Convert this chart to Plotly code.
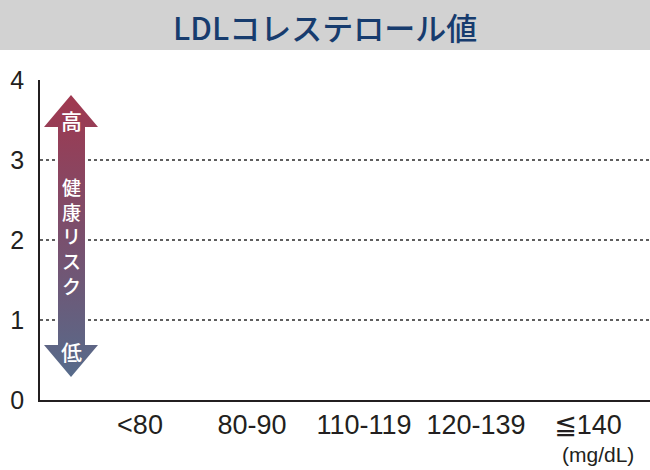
import plotly.graph_objects as go

# LDL cholesterol categories (mg/dL) - chart carries no bars, only the frame
categories = ["<80", "80-90", "110-119", "120-139", "≦140"]
y_ticks = [0, 1, 2, 3, 4]
grid_values = [1, 2, 3]

title_text = "LDLコレステロール値"
unit_text = "(mg/dL)"
risk_high = "高"
risk_low = "低"
risk_label = "健康リスク"

# double arrow outline, in pixel space of the plot area (x: 40..650, y up from axis)
arrow_x = [71, 98, 85, 85, 98, 71, 44, 58, 58, 44, 71]
arrow_y = [305, 273, 273, 55, 55, 23, 55, 55, 273, 273, 305]

W, H = 650, 470
L, R, T, B = 40, 0, 80, 70
PW, PH = W - L - R, H - T - B

def px(x):
    return (x - L) / PW

def py(y):
    return (H - B - y) / PH

num_font = "Liberation Sans, Arial, DejaVu Sans, Noto Sans CJK JP, sans-serif"
jp_font = "Noto Sans CJK JP, sans-serif"
ink = "#231f20"

fig = go.Figure()

# invisible trace so the category axis exists
fig.add_trace(go.Scatter(x=categories, y=[None] * len(categories),
                         mode="markers", showlegend=False, hoverinfo="skip"))

fig.add_trace(go.Scatter(
    x=arrow_x, y=arrow_y, xaxis="x2", yaxis="y2",
    mode="lines", fill="toself", line=dict(width=0),
    fillgradient=dict(type="vertical",
                      colorscale=[[0, "#566b8b"], [0.5, "#7a4f6d"], [1, "#a0384f"]]),
    showlegend=False, hoverinfo="skip",
))

shapes = [
    dict(type="rect", xref="paper", yref="paper",
         x0=px(0), x1=px(W), y0=py(50), y1=py(0),
         fillcolor="#d2d2d2", line=dict(width=0), layer="below"),
]
for g in grid_values:
    shapes.append(dict(type="line", xref="paper", yref="y", x0=0, x1=1, y0=g, y1=g,
                       line=dict(color="#2a2a2a", width=1.6, dash="dot"), layer="below"))

centered = dict(showarrow=False, xanchor="center", yanchor="middle")
annotations = [
    dict(text=title_text, xref="paper", yref="paper", x=px(325), y=py(26), **centered,
         font=dict(family=jp_font, size=31, color="#173c6e", weight=500)),
    dict(text=unit_text, xref="paper", yref="paper", x=px(598), y=py(454), **centered,
         font=dict(family=num_font, size=21, color=ink)),
    dict(text=risk_high, xref="x2", yref="y2", x=71, y=400 - 120, **centered,
         font=dict(family=jp_font, size=21, color="white", weight=500)),
    dict(text=risk_low, xref="x2", yref="y2", x=71, y=400 - 351, **centered,
         font=dict(family=jp_font, size=21, color="white", weight=500)),
    dict(text="<br>".join(risk_label), xref="x2", yref="y2", x=71, y=400 - 236, **centered,
         font=dict(family=jp_font, size=19, color="white", weight=500)),
]

fig.update_layout(
    width=W, height=H,
    margin=dict(l=L, r=R, t=T, b=B),
    paper_bgcolor="white", plot_bgcolor="white",
    showlegend=False,
    xaxis=dict(type="category", range=[-0.893, 4.554], showgrid=False, zeroline=False,
               showline=True, linecolor=ink, linewidth=2, ticks="", ticklabelstandoff=0,
               tickfont=dict(family=num_font, size=27, color=ink), fixedrange=True),
    yaxis=dict(range=[0, 4], tickvals=y_ticks, showgrid=False, zeroline=False,
               showline=True, linecolor=ink, linewidth=1.5, ticks="", ticklabelstandoff=9,
               tickfont=dict(family=num_font, size=25, color=ink), fixedrange=True),
    xaxis2=dict(range=[L, W], overlaying="x", anchor="y2", visible=False, fixedrange=True),
    yaxis2=dict(range=[0, PH], overlaying="y", anchor="x2", visible=False, fixedrange=True),
    shapes=shapes,
    annotations=annotations,
)

# drop the default page margin so the figure sits at the window's top-left
fig.write_html("out.html", config={"displayModeBar": False},
               post_script="document.body.style.margin='0';")
